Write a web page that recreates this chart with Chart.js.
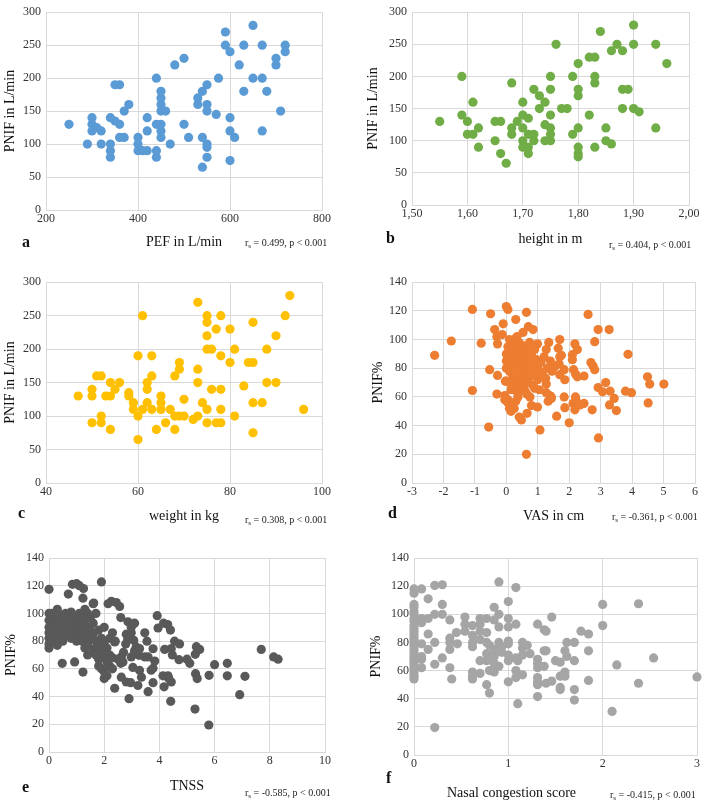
<!DOCTYPE html>
<html>
<head>
<meta charset="utf-8">
<script src="https://cdn.jsdelivr.net/npm/chart.js@4.4.0/dist/chart.umd.min.js"></script>
<style>
body { margin: 0; background: #fff; width: 710px; height: 803px; position: relative; overflow: hidden; font-family: "Liberation Serif", serif; }
canvas { position: absolute; }
.lbl { position: absolute; font-weight: bold; font-size: 16px; line-height: 16px; color: #111; }
.rs { position: absolute; font-size: 10px; line-height: 10px; white-space: nowrap; color: #222; }
.rs sub { font-size: 7px; vertical-align: -2px; }
.xt { position: absolute; font-size: 14px; line-height: 16px; white-space: nowrap; color: #111; }
</style>
</head>
<body>
<canvas id="chart_a" width="340" height="251" style="left:0px;top:0px"></canvas>
<canvas id="chart_b" width="350" height="248" style="left:355px;top:0px"></canvas>
<canvas id="chart_c" width="340" height="255" style="left:0px;top:270px"></canvas>
<canvas id="chart_d" width="355" height="255" style="left:355px;top:270px"></canvas>
<canvas id="chart_e" width="343" height="250" style="left:0px;top:545px"></canvas>
<canvas id="chart_f" width="355" height="258" style="left:355px;top:545px"></canvas>

<div class="lbl" style="left:22px;top:234px">a</div>
<div class="lbl" style="left:386px;top:230px">b</div>
<div class="lbl" style="left:18px;top:505px">c</div>
<div class="lbl" style="left:388px;top:505px">d</div>
<div class="lbl" style="left:22px;top:779px">e</div>
<div class="lbl" style="left:386px;top:770px">f</div>

<div class="xt" style="left:447px;top:785px">Nasal congestion score</div>

<div class="rs" style="left:245px;top:238px">r<sub>s</sub> = 0.499, p &lt; 0.001</div>
<div class="rs" style="left:609px;top:240px">r<sub>s</sub> = 0.404, p &lt; 0.001</div>
<div class="rs" style="left:245px;top:515px">r<sub>s</sub> = 0.308, p &lt; 0.001</div>
<div class="rs" style="left:612px;top:512px">r<sub>s</sub> = -0.361, p &lt; 0.001</div>
<div class="rs" style="left:245px;top:788px">r<sub>s</sub> = -0.585, p &lt; 0.001</div>
<div class="rs" style="left:610px;top:790px">r<sub>s</sub> = -0.415, p &lt; 0.001</div>

<script>
// a: PEF vs PNIF
const pefX = [250,290,300,300,300,310,320,320,340,340,340,340,350,360,350,360,360,370,370,380,
  400,400,400,410,420,420,420,440,440,440,440,450,450,450,450,450,450,450,460,470,
  480,500,500,510,530,530,540,550,540,550,550,550,540,550,550,570,575,590,590,600,
  600,600,610,600,620,630,630,650,650,670,670,670,680,700,700,710,720,720];
const pnifA = [130,100,140,130,120,125,120,100,140,100,90,80,190,190,135,130,110,110,150,160,
  110,100,90,90,90,120,140,200,130,90,80,180,170,160,150,130,120,110,150,100,
  220,230,130,110,170,160,180,190,110,100,95,80,65,160,150,145,200,270,250,240,
  140,120,110,75,220,250,180,280,200,250,200,120,180,230,220,150,250,240];

// b: height vs PNIF
const heightX = [1.55,1.59,1.59,1.60,1.60,1.61,1.61,1.62,1.62,1.65,1.66,1.65,1.66,1.67,1.68,1.68,1.68,1.69,
  1.70,1.70,1.70,1.70,1.70,1.71,1.71,1.71,1.71,1.72,1.72,1.72,1.73,1.73,1.74,1.74,1.74,
  1.75,1.75,1.75,1.75,1.75,1.75,1.76,1.77,1.78,1.79,1.79,1.80,1.80,1.80,1.80,1.80,1.80,1.80,
  1.82,1.83,1.82,1.83,1.83,1.83,1.84,1.85,1.85,1.86,1.86,1.87,1.88,1.88,1.89,1.88,
  1.90,1.90,1.90,1.91,1.94,1.94,1.96];
const pnifB = [130,200,140,130,110,110,160,120,90,130,130,100,80,65,190,120,110,130,
  160,140,120,100,90,135,110,90,80,180,110,100,170,150,160,125,100,
  200,180,140,120,110,100,250,150,150,200,110,220,180,170,120,90,80,75,
  230,230,140,200,190,90,270,120,100,95,240,250,240,180,180,150,
  280,250,150,145,250,120,220];

// c: weight vs PNIF
const weightX = [47,50,50,50,51,52,52,52,53,54,54,54,55,56,58,58,59,59,60,60,60,61,61,
  62,62,62,63,63,63,64,65,65,65,66,67,68,68,68,69,69,69,70,70,72,73,73,73,73,74,
  75,75,75,75,75,75,76,76,77,77,78,78,78,78,78,80,80,81,81,83,84,85,85,85,85,87,
  88,88,90,90,92,93,96];
const pnifC = [130,140,130,90,160,160,100,90,130,130,150,80,140,150,135,130,120,110,190,100,65,250,110,
  150,140,120,190,160,110,80,130,120,110,90,110,160,100,80,180,170,100,125,100,95,270,170,150,100,120,
  250,240,220,200,110,90,200,140,230,90,250,190,140,110,90,230,180,200,100,145,180,180,240,120,75,120,
  200,150,220,150,250,280,110];

// d: VAS vs PNIF%
const vasX = [-2.28,-1.75,-1.08,-1.08,-0.8,-0.53,-0.56,-0.5,-0.37,-0.3,-0.28,-0.28,-0.3,-0.13,-0.1,-0.03,0,
  -0.05,-0.05,0,0.05,0.05,0.1,0.3,0.34,0.64,0.53,0.7,0.85,0.64,0.66,0.41,0.48,0.37,0.8,0.99,1.07,
  0.99,0.74,1.35,1.27,1.7,1.65,1.7,1.75,1.68,1.54,1.7,1.84,1.86,1.84,1.86,1.6,2.0,1.33,1.38,1.43,1.43,
  1.27,1.27,2.12,2.18,2.2,2.23,2.18,2.26,2.1,2.1,2.14,2.2,2.26,2.47,2.47,2.34,2.6,2.92,3.27,2.81,
  2.69,2.76,2.81,2.92,3.06,3.16,3.3,3.28,3.43,3.5,2.73,2.93,3.87,3.79,3.98,4.49,4.56,4.51,5.01,
  0,0,0,0.05,0.05,0.1,0.1,0.1,0.1,0.15,0.15,0.2,0.2,0.2,0.25,0.25,0.25,0.3,0.3,0.3,0.35,0.35,0.35,
  0.4,0.4,0.4,0.4,0.45,0.45,0.5,0.5,0.5,0.5,0.55,0.55,0.6,0.6,0.6,0.65,0.65,0.65,0.7,0.7,0.7,
  0.75,0.75,0.8,0.8,0.85,0.85,0.9,0.9,0.95,1.0,1.0,1.05,1.1,1.15,1.2,1.25,1.3,1.4,1.45,1.5,
  0.15,0.1,0.05,0.2,0.25,0.3,0.15,0.35,0.55,0.6,0.75,0.9];
const pnifD = [89,99,121,64.5,97.5,79,39,118,107,102,97,75,62,103.5,111,71,123,
  61,58,71,121,56,52,114,102,119,105,109,107,20,48.6,46,44,60,54,53,37,
  97,98,98,93,100,94,88,89,83,81,75.5,79,72,60,52.5,46.6,42,57,61,59,60,
  63,69,55.5,51,60,57,97,93,89.5,86,79,76,74,74.6,55.5,54.4,117.5,107,107,98.5,
  84,81.5,79,66.6,63.6,70,64,54.4,59,50.5,51,31.4,89.7,64,63,74,69,55.8,69,
  90,85,80,95,88,100,92,84,78,97,86,93,82,75,98,88,68,101,90,80,95,85,72,
  98,88,78,65,92,83,96,87,76,68,90,80,93,84,72,88,78,62,95,82,70,
  86,74,90,79,83,68,93,75,86,80,72,65,84,77,88,73,80,85,78,82,
  65,70,58,55,52,57,50,63,66,64,60,66];

// e: TNSS vs PNIF%
const tnssX = [0,0.85,1.0,1.1,1.25,0.7,1.23,1.9,2.14,2.26,2.44,2.56,1.62,2.6,2.86,2.98,3.1,3.92,3.95,
  4.15,4.3,4.4,3.47,3.55,3.77,4.19,4.43,4.47,4.55,4.73,4.71,5.0,5.1,5.34,5.46,5.3,5.31,5.37,5.29,
  5.79,5.8,6.0,6.46,6.46,7.1,6.91,7.69,8.14,8.3,0.48,0.93,1.23,2.9,2.38,2.62,2.8,2.96,3.22,3.59,
  3.77,4.17,4.41,4.43,4.13,4.31,4.34,3.28,3.35,3.47,3.59,3.7,3.77,3.83,3.04,2.98,2.68,2.62,2.78,
  2.85,2.98,3.07,3.16,3.1,3.28,3.26,2.3,2.38,
  0,0,0,0,0,0,0,0.1,0.1,0.1,0.1,0.2,0.2,0.2,0.2,0.3,0.3,0.3,0.3,0.4,0.4,0.4,0.5,0.5,0.5,
  0.6,0.6,0.6,0.7,0.7,0.8,0.8,0.8,0.9,0.9,0.9,1.0,1.0,1.0,1.0,1.1,1.1,1.1,1.2,1.2,1.2,1.2,
  1.3,1.3,1.3,1.3,1.4,1.4,1.4,1.4,1.5,1.5,1.5,1.6,1.6,1.6,1.6,1.7,1.7,1.7,1.8,1.8,1.8,1.8,
  1.9,1.9,1.9,2.0,2.0,2.0,2.0,2.0,2.1,2.1,2.1,2.2,2.2,2.2,2.3,2.3,2.4,2.5,2.6,2.7,2.8];
const pnifE = [117.4,121,121.5,120,118,114,111,122.7,107,108.7,107.8,105,107.5,97,94,90,93,98.4,89.5,
  93,92,88,86,80,74.5,74,74.6,70,80,78,66.6,67,64,76,74,70.5,56.5,53,31,
  19.5,55.3,63,64,55,54.6,41.4,74,68.6,67,64,65,57.7,38.5,46,54,50.5,50,48,43.5,
  50,47,36.6,50.5,55,55,53,59,54,68.6,68.6,59,60.4,65.6,61,68.6,65,68.6,78,
  81,86,80.6,75.8,73,74.6,69.8,86,79.4,
  100,95,90,86,82,78,75,100,93,88,83,97,90,85,80,103,95,88,77,99,92,84,96,89,80,
  100,91,84,95,87,101,93,82,98,89,85,96,90,84,80,100,92,86,98,93,88,80,
  103,95,85,75,100,90,78,70,97,88,82,107,93,85,74,100,80,70,88,76,67,62,
  82,72,60,90,78,68,58,53,75,65,55,82,70,62,60,68,80,67,64,72,85];

// f: nasal congestion score vs PNIF%
const congX = [0,0,0,0,0,0,0,0,0,0,0,0,0,0,0,0,0,0,0,0,0,0,0,0,0,0,0,0,
  0.08,0.08,0.08,0.08,0.08,0.08,0.08,0.15,0.15,0.15,0.15,0.22,0.22,0.22,0.22,0.22,
  0.3,0.3,0.3,0.3,0.38,0.38,0.38,0.38,0.38,0.4,0.45,0.46,0.54,0.54,0.54,
  0.62,0.62,0.62,0.62,0.62,0.62,0.62,0.7,0.7,0.7,0.7,0.7,0.7,0.77,0.77,0.77,0.77,0.77,0.77,
  0.8,0.8,0.8,0.85,0.85,0.85,0.85,0.85,0.85,0.9,0.9,0.9,0.9,0.9,0.9,0.93,0.93,
  1.0,1.0,1.0,1.0,1.0,1.0,1.0,1.0,1.08,1.08,1.08,1.08,1.08,1.1,1.1,1.15,1.15,1.15,1.15,1.2,1.23,
  1.31,1.31,1.31,1.31,1.31,1.31,1.31,1.31,1.38,1.38,1.38,1.4,1.4,1.4,1.46,1.46,
  1.5,1.55,1.55,1.55,1.55,1.6,1.6,1.6,1.62,1.62,1.7,1.7,1.7,1.7,1.77,1.85,1.85,1.85,
  2.0,2.0,2.1,2.15,2.38,2.38,2.54,3.0];
const pnifF = [118,115,107,105,102,100,97,95,92,90,88,86,84,82,80,78,76,74,72,70,68,66,64,62,60,58,56,54,
  118,97,94,79,70,68,62,111,97,86,75,120.5,100,80,64.5,19.5,
  121,107,100,69,96,83,80,75,62,54,87,79,98,93,88,
  92,85,80,77,59,56,54,97,93,88,82,67,58,97,87,80,72,67,50,
  78,60,44,105,96,75,70,65,59,123,100,91,80,74,63,77,73,
  109,97,91,81,79,71,67,52,119,93,69,60,55,67,36.5,80,76,71,57,78,72,
  93,68,65,62,55,52,50,41.5,89,74,63,88,74,51,98,52.5,
  67,66,56,48,46.5,74,59,56,80,70,80,67,46.5,39,88,86,74,53,
  107,92,31,64,107.5,51,69,55.5];

function toPoints(xs, ys) {
    let pts = [];
    for (let i = 0; i < xs.length; i++) {
        pts.push({ x: xs[i], y: ys[i] });
    }
    return pts;
}

const gridColor = '#d9d9d9';
const tickFont = { family: 'Liberation Serif', size: 12 };
const titleFont = { family: 'Liberation Serif', size: 14 };

function scatter(id, xs, ys, color, o) {
    const ctx = document.getElementById(id);
    new Chart(ctx, {
        type: 'scatter',
        data: {
            datasets: [{
                data: toPoints(xs, ys),
                backgroundColor: color,
                borderColor: color,
                borderWidth: 0,
                pointRadius: 4.6,
                clip: false
            }]
        },
        options: {
            responsive: false,
            animation: false,
            layout: { padding: { top: o.padTop, right: o.padRight, left: 0, bottom: 0 } },
            plugins: { legend: { display: false }, tooltip: { enabled: false } },
            scales: {
                x: {
                    type: 'linear',
                    min: o.xMin, max: o.xMax,
                    afterFit: (s) => { s.height = o.xh; },
                    ticks: { stepSize: o.xStep, font: tickFont, color: '#333', padding: 2, maxRotation: 0,
                        callback: o.xFmt || ((v) => v) },
                    grid: { color: gridColor, drawTicks: false, lineWidth: 1 },
                    border: { color: gridColor },
                    title: { display: o.xTitle !== '', text: o.xTitle, font: titleFont, color: '#111', padding: { top: 3, bottom: 0 } }
                },
                y: {
                    min: o.yMin, max: o.yMax,
                    afterFit: (s) => { s.width = o.yw; },
                    ticks: { stepSize: o.yStep, font: tickFont, color: '#333', padding: 5 },
                    grid: { color: gridColor, drawTicks: false, lineWidth: 1 },
                    border: { color: gridColor },
                    title: { display: true, text: o.yTitle, font: titleFont, color: '#111', padding: { top: o.yTitlePad, bottom: 2 } }
                }
            }
        }
    });
}

scatter('chart_a', pefX, pnifA, '#5b9bd5',
    { xMin: 200, xMax: 800, xStep: 200, yMin: 0, yMax: 300, yStep: 50, xTitle: 'PEF in L/min', yTitle: 'PNIF in L/min',
      padTop: 8, padRight: 18, yw: 46, xh: 41, yTitlePad: 2 });
scatter('chart_b', heightX, pnifB, '#70ad47',
    { xMin: 1.5, xMax: 2.0, xStep: 0.1, yMin: 0, yMax: 300, yStep: 50, xTitle: 'height in m', yTitle: 'PNIF in L/min',
      padTop: 7, padRight: 16, yw: 57, xh: 43, yTitlePad: 10, xFmt: (v) => v.toFixed(2).replace('.', ',') });
scatter('chart_c', weightX, pnifC, '#ffc000',
    { xMin: 40, xMax: 100, xStep: 20, yMin: 0, yMax: 300, yStep: 50, xTitle: 'weight in kg', yTitle: 'PNIF in L/min',
      padTop: 11, padRight: 18, yw: 46, xh: 42, yTitlePad: 2 });
scatter('chart_d', vasX, pnifD, '#ed7d31',
    { xMin: -3, xMax: 6, xStep: 1, yMin: 0, yMax: 140, yStep: 20, xTitle: 'VAS in cm', yTitle: 'PNIF%',
      padTop: 10, padRight: 15, yw: 57, xh: 42, yTitlePad: 15 });
scatter('chart_e', tnssX, pnifE, '#595959',
    { xMin: 0, xMax: 10, xStep: 2, yMin: 0, yMax: 140, yStep: 20, xTitle: 'TNSS', yTitle: 'PNIF%',
      padTop: 13, padRight: 18, yw: 49, xh: 43, yTitlePad: 3 });
scatter('chart_f', congX, pnifF, '#a5a5a5',
    { xMin: 0, xMax: 3, xStep: 1, yMin: 0, yMax: 140, yStep: 20, xTitle: '', yTitle: 'PNIF%',
      padTop: 13, padRight: 13, yw: 59, xh: 48, yTitlePad: 13 });
</script>
</body>
</html>
